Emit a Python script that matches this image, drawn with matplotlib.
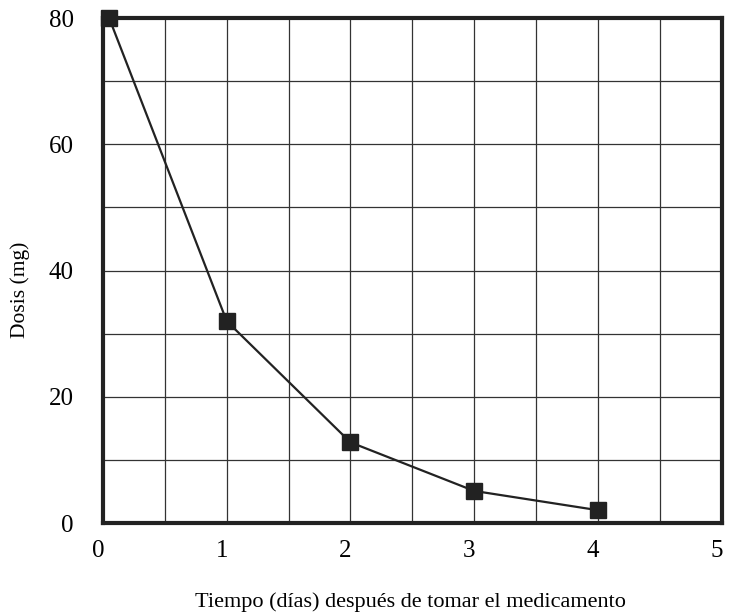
import numpy as np
import matplotlib
matplotlib.use("Agg")
import matplotlib.pyplot as plt
from matplotlib.transforms import ScaledTranslation

dias = [0.05, 1.0, 2.0, 3.0, 4.0]
dosis = [80.0, 32.0, 12.8, 5.1, 2.05]
xticks = [0, 1, 2, 3, 4, 5]
yticks = [0, 20, 40, 60, 80]

plt.rcParams['font.family'] = ['Liberation Serif', 'DejaVu Serif']

W, H = 733, 614
fig = plt.figure(figsize=(W / 100, H / 100), dpi=100)
ax = fig.add_axes([0.1405, 0.148, 0.844, 0.8225])
ax.set_xlim(0, 5)
ax.set_ylim(0, 80)

ax.set_xticks(xticks)
ax.set_yticks(yticks)
ax.set_xticks(np.arange(0, 5.01, 0.5), minor=True)
ax.set_yticks(np.arange(0, 80.1, 10), minor=True)
ax.grid(which='both', color='#333333', linewidth=0.9)
ax.set_axisbelow(True)
ax.tick_params(which='both', length=0)
ax.tick_params(axis='x', labelsize=18, pad=12)
ax.tick_params(axis='y', labelsize=18, pad=21)
for lab in ax.get_xticklabels():
    lab.set_transform(lab.get_transform() + ScaledTranslation(-5/100, 0, fig.dpi_scale_trans))

for s in ax.spines.values():
    s.set_linewidth(3.0)
    s.set_color('#222222')

ax.plot(dias, dosis, color='#222222', linewidth=1.6, marker='s', markersize=11.5,
        markerfacecolor='#222222', markeredgecolor='#222222', clip_on=False, zorder=5)

fig.text(410 / W, 1 - 607 / H, 'Tiempo (días) después de tomar el medicamento',
         fontsize=16, ha='center', va='baseline')
fig.text(20 / W, 1 - 290 / H, 'Dosis (mg)', fontsize=15.5, rotation=90,
         ha='center', va='center')

fig.savefig('out.png', dpi=100)
